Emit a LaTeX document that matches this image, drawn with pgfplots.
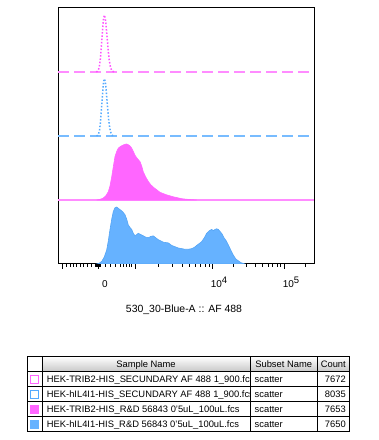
\documentclass[border=0pt]{standalone}
\usepackage{fontspec}
\setmainfont{Liberation Sans}
\usepackage{pgfplots}
\pgfplotsset{compat=1.18}
\usetikzlibrary{calc}
\definecolor{pinkF}{RGB}{255,102,255}
\definecolor{pinkD}{RGB}{255,80,255}
\definecolor{pinkL}{RGB}{255,140,255}
\definecolor{blueF}{RGB}{102,178,255}
\definecolor{blueE}{RGB}{85,165,245}
\definecolor{blueD}{RGB}{85,170,255}
\definecolor{blueL}{RGB}{120,188,255}
\newcommand{\supx}[1]{\raisebox{4.5bp}{\fontsize{9.5}{10}\selectfont #1}}
\begin{document}
\begin{tikzpicture}[x=1bp,y=1bp]
\begin{axis}[
  width=256bp, height=256bp, scale only axis,
  xmin=0, xmax=256, ymin=0, ymax=4,
  ytick=\empty,
  xtick pos=left,
  xtick={4.5,40,77,154,226},
  xticklabels={,0,,10\supx{4},10\supx{5}},
  minor xtick={8.7,12,15.3,18.7,22,25.3,29.3,33,37,38,39,41,42,47,52,57,62,65.3,68.7,71,73.7,100.5,114.2,124,131.5,137.7,142.9,147.4,151.4,175.7,188.3,197.3,204.3,210,214.8,219,222.7,247.7},
  tick align=outside,
  major tick length=5bp, minor tick length=3bp,
  xtick style={black, line width=0.9bp},
  axis line style={line width=1bp},
  xticklabel style={font=\fontsize{10}{12}\selectfont, anchor=base, xshift=7bp, yshift=-19bp},
  xlabel={530\_30-Blue-A :: AF 488},
  xlabel style={font=\fontsize{10.5}{12}\selectfont, at={(axis description cs:0.5,0)}, anchor=base, yshift=-48.7bp, xshift=-2bp},
]
% blue filled (lane 0)
\addplot[draw=blueE, fill=blueF, line width=0.6bp] coordinates {
(38.7,0) (41,0.01) (43.7,0.04) (46.3,0.11) (48.7,0.22) (50.3,0.36) (52,0.54) (53.7,0.70) (55.3,0.82) (57,0.88) (58.7,0.89) (60.3,0.87) (62,0.85) (64.5,0.82) (67,0.77) (68.7,0.70) (70.3,0.61) (72,0.57) (73.7,0.54) (75.3,0.48) (77,0.44) (78.7,0.46) (80.3,0.48) (82.7,0.46) (85.3,0.44) (87.7,0.42) (90.3,0.41) (92.7,0.43) (95.3,0.44) (97.7,0.41) (100.3,0.38) (103,0.36) (105.3,0.34) (107.7,0.335) (110.3,0.33) (113.7,0.29) (117,0.27) (120.3,0.25) (123.7,0.24) (127,0.23) (130.3,0.23) (133.7,0.24) (136.3,0.26) (138.7,0.29) (141.3,0.32) (143.7,0.35) (146.3,0.41) (148.7,0.48) (151.3,0.52) (153.7,0.54) (155.5,0.52) (157,0.54) (158.7,0.55) (160.3,0.54) (162,0.51) (164,0.47) (166,0.41) (168.3,0.36) (170.3,0.30) (172.7,0.22) (175.3,0.14) (177.7,0.08) (180.3,0.05) (183,0.02) (187,0)
} -- cycle;
% pink baseline (lane 1)
\addplot[draw=pinkL, line width=1.1bp] coordinates {(0,1) (256,1)};
% pink filled (lane 1)
\addplot[draw=pinkF, fill=pinkF, line width=0.6bp] coordinates {
(38.7,1) (42,1.01) (45.3,1.03) (48,1.07) (50.3,1.13) (52,1.22) (53.7,1.36) (55.3,1.52) (57,1.68) (58.7,1.76) (60.3,1.81) (62.7,1.84) (65.3,1.86) (67,1.87) (68.7,1.875) (70.7,1.86) (72.3,1.84) (73.7,1.81) (75.3,1.76) (77,1.70) (78.7,1.66) (80.3,1.63) (82,1.60) (83.7,1.53) (85.3,1.44) (87.7,1.36) (90.3,1.29) (92.7,1.24) (95.3,1.20) (98.7,1.16) (102,1.12) (105.3,1.10) (108.7,1.08) (112,1.065) (115.3,1.05) (119.7,1.035) (123.7,1.02) (130,1.01) (138.7,1.0)
} -- cycle;
% blue dashed baseline (lane 2)
\addplot[draw=blueL, line width=1.2bp, dash pattern=on 11bp off 5bp] coordinates {(0,2) (256,2)};
% pink dashed baseline (lane 3)
\addplot[draw=pinkL, line width=1.2bp, dash pattern=on 11bp off 5bp] coordinates {(0,3) (256,3)};
% blue dotted (lane 2)
\addplot[draw=blueD, line width=1.5bp, dash pattern=on 1.5bp off 1.8bp] coordinates {
(38.5,2.0) (39.5,2.01) (40.5,2.03) (41.5,2.09) (42.5,2.22) (43.5,2.42) (44.5,2.64) (45.5,2.83) (46.3,2.895) (47.3,2.85) (48.3,2.70) (49.3,2.50) (50.3,2.31) (51.3,2.17) (52.3,2.08) (53.3,2.035) (54.3,2.01) (56,2.0)
};
% pink dotted (lane 3)
\addplot[draw=pinkD, line width=1.5bp, dash pattern=on 1.5bp off 1.8bp] coordinates {
(38.3,3.0) (39.3,3.01) (40.3,3.03) (41.3,3.08) (42.3,3.20) (43.3,3.38) (44.3,3.61) (45.3,3.81) (46.3,3.89) (47.3,3.84) (48.3,3.69) (49.3,3.50) (50.3,3.32) (51.3,3.18) (52.3,3.09) (53.3,3.04) (54.3,3.015) (56,3.0)
};
\coordinate (LL) at (rel axis cs:0,0);
\end{axis}
% ---- table ----
\begin{scope}[shift={($(LL)+(-58,-176)$)}]
\shade[top color=white, bottom color=black!22] (42,83.3) rectangle (349.3,68.3);
\begin{scope}[line width=0.8bp]
\draw (27.3,8.3) rectangle (349.3,83.3);
\foreach \yy in {68.3,53.3,38.3,23.3} \draw (27.3,\yy) -- (349.3,\yy);
\foreach \xx in {42,250,317.3} \draw (\xx,8.3) -- (\xx,83.3);
\end{scope}
\begin{scope}[every node/.style={font=\fontsize{9.4}{11}\selectfont, inner sep=0pt}]
\node[anchor=base] at (146,72.8) {Sample Name};
\node[anchor=base] at (283.7,72.8) {Subset Name};
\node[anchor=base] at (333.3,72.8) {Count};
\begin{scope}
\clip (42,8.3) rectangle (249.5,68.3);
\node[anchor=base west] at (46.7,57.8) {HEK-TRIB2-HIS\_SECUNDARY AF 488 1\_900.fcs};
\node[anchor=base west] at (46.7,42.8) {HEK-hIL4I1-HIS\_SECUNDARY AF 488 1\_900.fcs};
\node[anchor=base west] at (46.7,27.8) {HEK-TRIB2-HIS\_R\&D 56843 0'5uL\_100uL.fcs};
\node[anchor=base west] at (46.7,12.8) {HEK-hIL4I1-HIS\_R\&D 56843 0'5uL\_100uL.fcs};
\end{scope}
\foreach \yy in {57.8,42.8,27.8,12.8} \node[anchor=base west] at (254.5,\yy) {scatter};
\node[anchor=base east] at (346,57.8) {7672};
\node[anchor=base east] at (346,42.8) {8035};
\node[anchor=base east] at (346,27.8) {7653};
\node[anchor=base east] at (346,12.8) {7650};
\end{scope}
\draw[pinkF, line width=1.2bp] (30.9,56.9) rectangle (38.5,64.5);
\draw[blueD, line width=1.2bp] (30.9,41.9) rectangle (38.5,49.5);
\fill[pinkF] (30.5,26.5) rectangle (38.9,34.9);
\fill[blueF] (30.5,11.5) rectangle (38.9,19.9);
\end{scope}
\pgfresetboundingbox
\path[use as bounding box] ($(LL)+(-58,-176)$) rectangle ($(LL)+(320,264)$);
\end{tikzpicture}
\end{document}
